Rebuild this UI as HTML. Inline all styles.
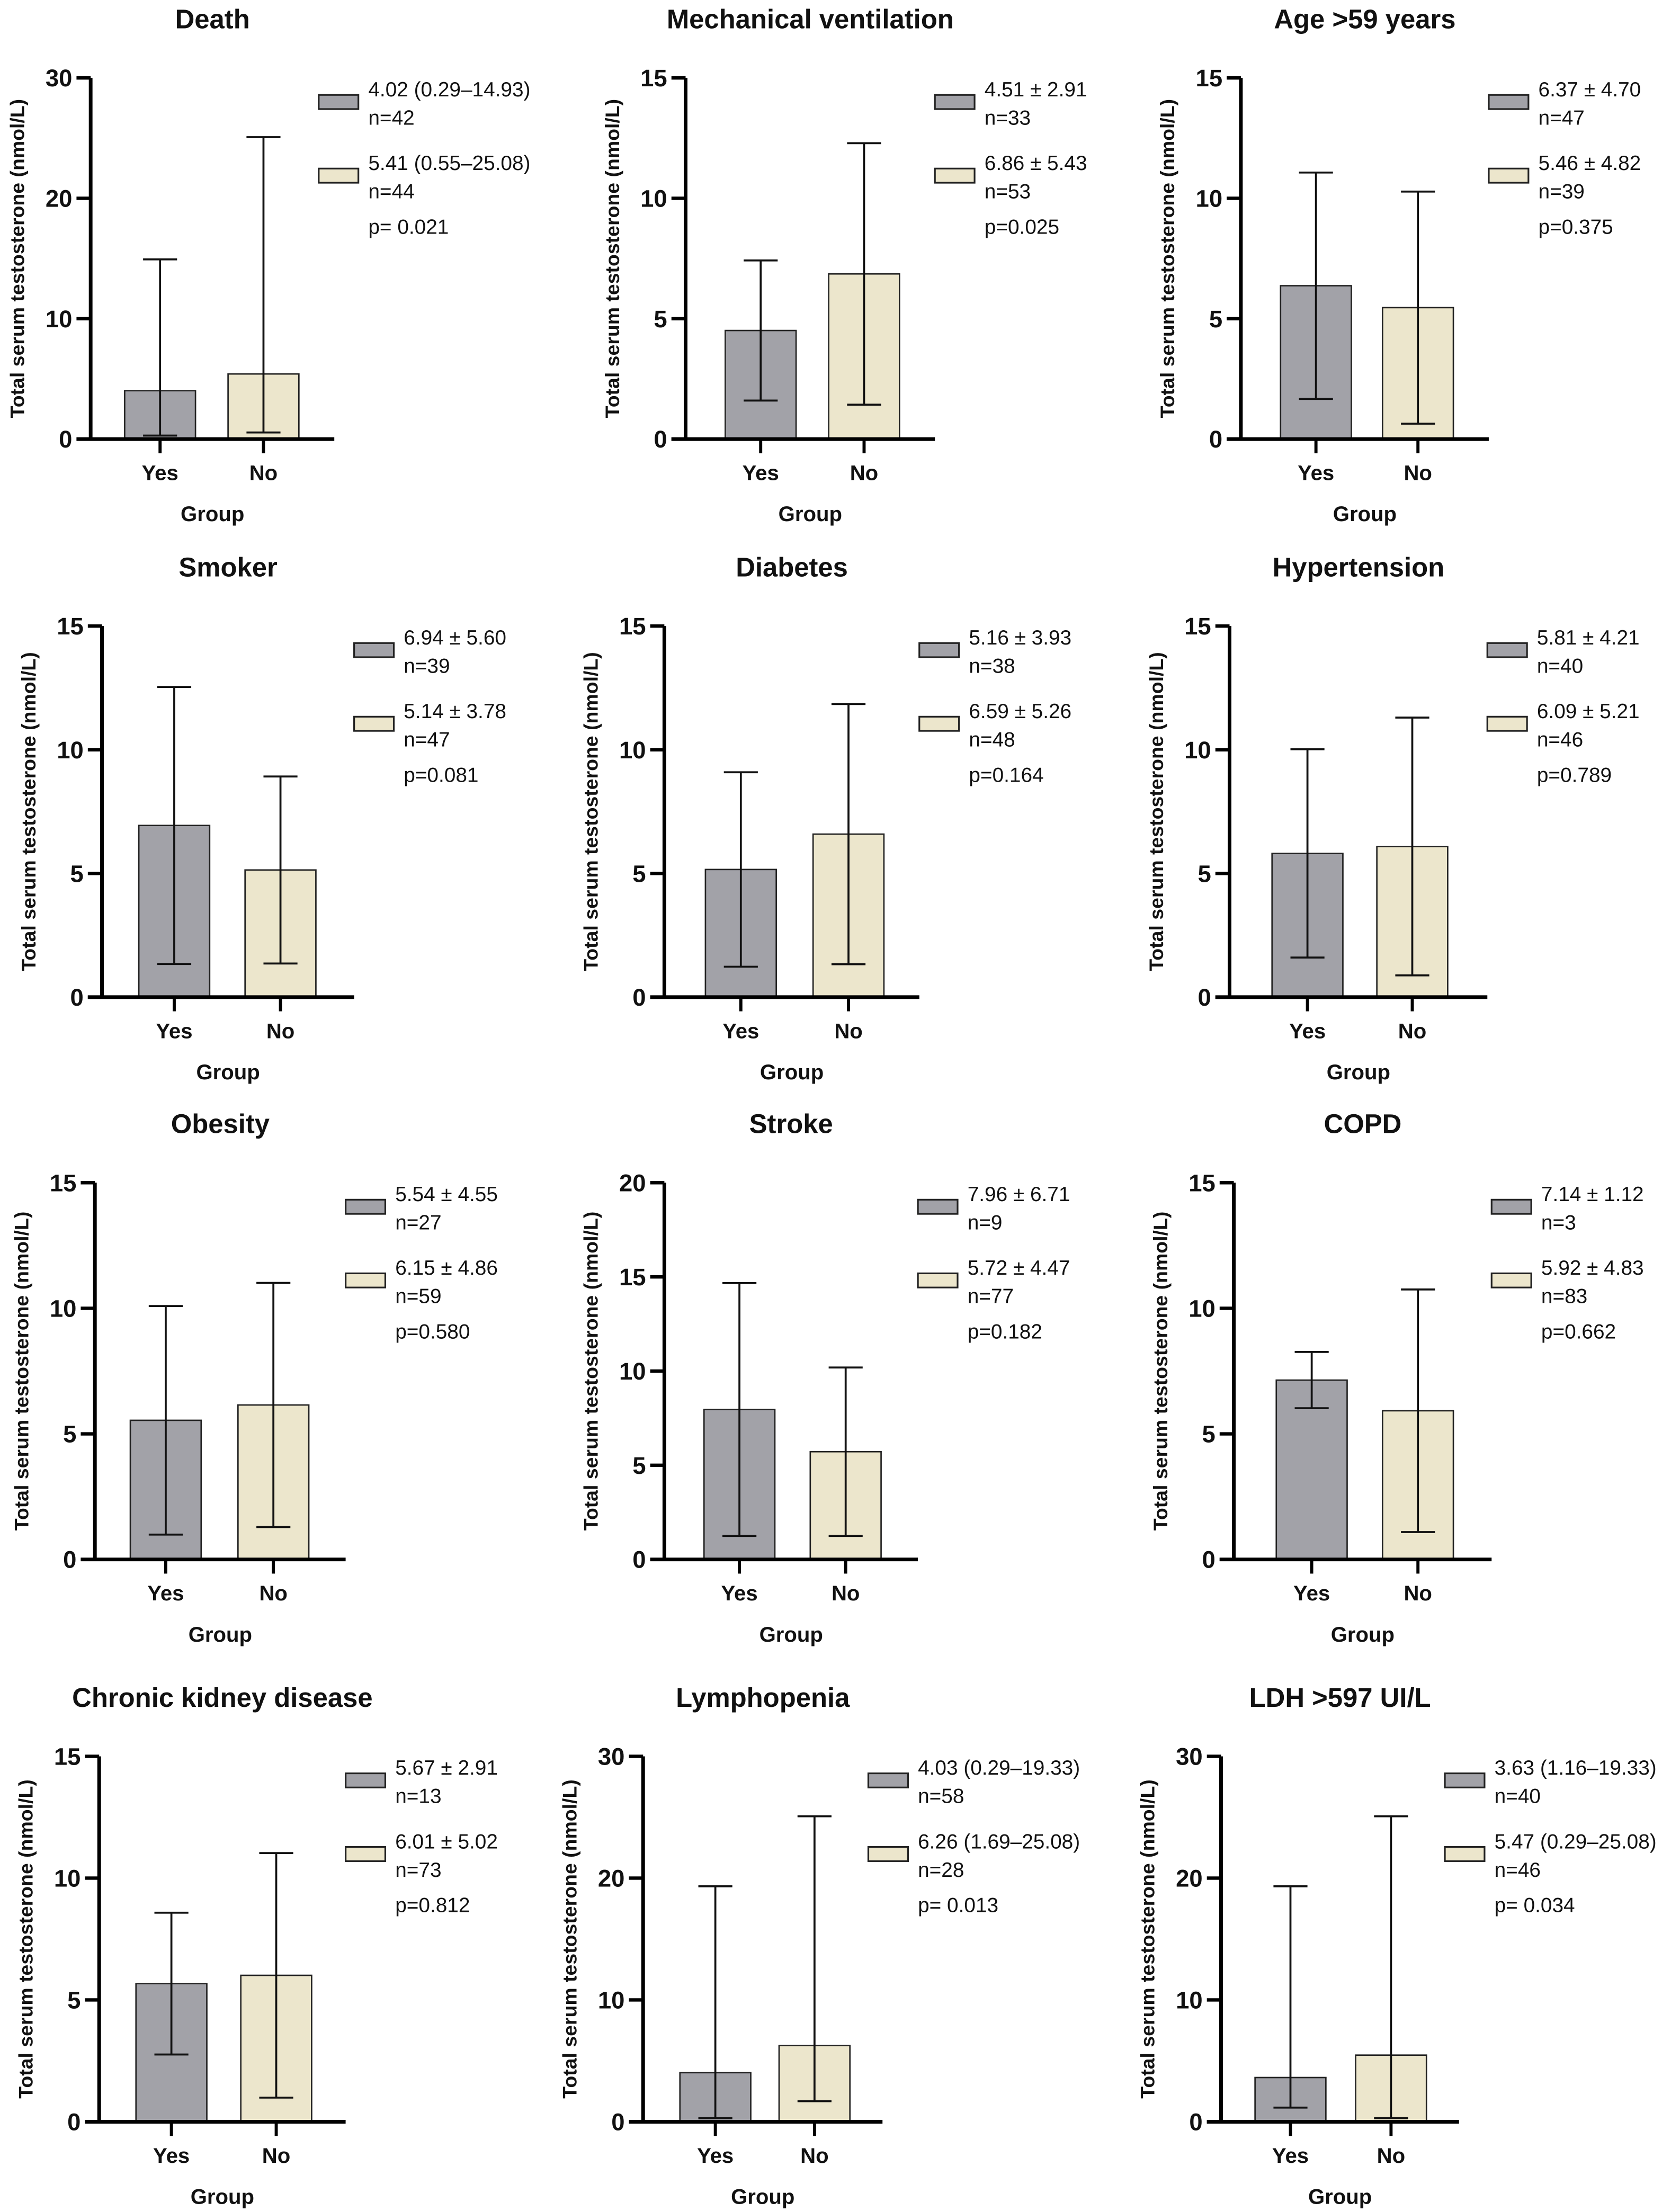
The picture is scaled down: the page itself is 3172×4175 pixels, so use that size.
<!DOCTYPE html>
<html><head><meta charset="utf-8">
<style>
html,body{margin:0;padding:0;background:#fff;}
svg{display:block;}
text{font-family:"Liberation Sans",Arial,sans-serif;fill:#111;}
</style></head>
<body>
<svg id="chart" width="3172" height="4175" viewBox="0 0 1186 1561" xmlns="http://www.w3.org/2000/svg"></svg>
<script>
// ---- data ----
const titles = ["Death","Mechanical ventilation","Age >59 years","Smoker","Diabetes","Hypertension","Obesity","Stroke","COPD","Chronic kidney disease","Lymphopenia","LDH >597 UI/L"];
const yMax = [30,15,15,15,15,15,15,20,15,15,30,30];
const yStep = [10,5,5,5,5,5,5,5,5,5,10,10];
const meanYes = [4.02,4.51,6.37,6.94,5.16,5.81,5.54,7.96,7.14,5.67,4.03,3.63];
const meanNo = [5.41,6.86,5.46,5.14,6.59,6.09,6.15,5.72,5.92,6.01,6.26,5.47];
const lowYes = [0.29,1.60,1.67,1.34,1.23,1.60,0.99,1.25,6.02,2.76,0.29,1.16];
const highYes = [14.93,7.42,11.07,12.54,9.09,10.02,10.09,14.67,8.26,8.58,19.33,19.33];
const lowNo = [0.55,1.43,0.64,1.36,1.33,0.88,1.29,1.25,1.09,0.99,1.69,0.29];
const highNo = [25.08,12.29,10.28,8.92,11.85,11.30,11.01,10.19,10.75,11.03,25.08,25.08];
const legYes = ["4.02 (0.29–14.93)","4.51 ± 2.91","6.37 ± 4.70","6.94 ± 5.60","5.16 ± 3.93","5.81 ± 4.21","5.54 ± 4.55","7.96 ± 6.71","7.14 ± 1.12","5.67 ± 2.91","4.03 (0.29–19.33)","3.63 (1.16–19.33)"];
const legNo = ["5.41 (0.55–25.08)","6.86 ± 5.43","5.46 ± 4.82","5.14 ± 3.78","6.59 ± 5.26","6.09 ± 5.21","6.15 ± 4.86","5.72 ± 4.47","5.92 ± 4.83","6.01 ± 5.02","6.26 (1.69–25.08)","5.47 (0.29–25.08)"];
const nYes = [42,33,47,39,38,40,27,9,3,13,58,40];
const nNo = [44,53,39,47,48,46,59,77,83,73,28,46];
const pVals = ["p= 0.021","p=0.025","p=0.375","p=0.081","p=0.164","p=0.789","p=0.580","p=0.182","p=0.662","p=0.812","p= 0.013","p= 0.034"];
const groups = ["Yes","No"];

// ---- layout (pixel geometry, not data) ----
const rowTop = [55,442,835,1240];
const rowZero = [310,704,1101,1498];
const axisX = [64,484,876,72,469,868,67,469,871,70,454,862];
const axisEnd = [236,660,1051,250,649,1050,244,648,1053,244,623,1030];
const yesX = [113,537,929,123,523,923,117,522,926,121,505,911];
const noX = [186,610,1001,198,599,997,193,597,1001,195,575,982];
const legX = [225,660,1051,250,649,1050,244,648,1053,244,613,1020];

const NS="http://www.w3.org/2000/svg";
const svg=document.getElementById('chart');
function mk(tag,attrs,parent,txt){const e=document.createElementNS(NS,tag);for(const k in attrs)e.setAttribute(k,attrs[k]);if(txt!==undefined)e.textContent=txt;(parent||svg).appendChild(e);return e;}

for(let i=0;i<12;i++){
  const r=Math.floor(i/3);
  const top=rowTop[r], zero=rowZero[r], ax=axisX[i], ae=axisEnd[i];
  const y=v=>zero-(v/yMax[i])*(zero-top);
  const g=mk('g',{});
  
  
  const t=mk('text',{x:(ax+ae)/2,y:top-35,'text-anchor':'middle','font-size':19,'font-weight':'bold'},g,titles[i]);
  
  
  const yl=mk('text',{transform:`translate(${ax-47},${(top+zero)/2}) rotate(-90)`,'text-anchor':'middle','font-size':14,'font-weight':'bold'},g,'Total serum testosterone (nmol/L)');
  
  
  const means=[meanYes[i],meanNo[i]], lows=[lowYes[i],lowNo[i]], highs=[highYes[i],highNo[i]], xs=[yesX[i],noX[i]], fills=['#a2a2a8','#ece6cc'];
  for(let k=0;k<2;k++){
    const b=mk('rect',{x:xs[k]-25,y:y(means[k]),width:50,height:zero-y(means[k]),fill:fills[k],stroke:'#222','stroke-width':1},g);
    
    
    const eb=mk('path',{d:`M${xs[k]},${y(lows[k])}V${y(highs[k])}M${xs[k]-12},${y(highs[k])}H${xs[k]+12}M${xs[k]-12},${y(lows[k])}H${xs[k]+12}`,stroke:'#111','stroke-width':1.4,fill:'none'},g);
    
    
    const xt=mk('text',{x:xs[k],y:zero+29,'text-anchor':'middle','font-size':15,'font-weight':'bold'},g,groups[k]);
    
    
    mk('line',{x1:xs[k],x2:xs[k],y1:zero,y2:zero+10,stroke:'#000','stroke-width':2.2},g);
  }
  const axes=mk('path',{d:`M${ax},${top}V${zero}M${ax-10},${zero}H${ae}`,stroke:'#000','stroke-width':2.6,fill:'none'},g);
  
  
  for(let v=0;v<=yMax[i];v+=yStep[i]){
    mk('line',{x1:ax-10,x2:ax,y1:y(v),y2:y(v),stroke:'#000','stroke-width':2.4},g);
    const tl=mk('text',{x:ax-13,y:y(v)+6,'text-anchor':'end','font-size':17,'font-weight':'bold'},g,String(v));
    
    
  }
  const gx=mk('text',{x:(ax+ae)/2,y:zero+58,'text-anchor':'middle','font-size':15,'font-weight':'bold'},g,'Group');
  
  
  const lx=legX[i], leg=[[legYes[i],'n='+nYes[i],top+17],[legNo[i],'n='+nNo[i],top+69]];
  for(let k=0;k<2;k++){
    const le=mk('g',{},g);
    
    
    mk('rect',{x:lx,y:leg[k][2]-5,width:28,height:10,fill:fills[k],stroke:'#222','stroke-width':1.2},le);
    mk('text',{x:lx+35,y:leg[k][2]-4,'font-size':14.5},le,leg[k][0]);
    mk('text',{x:lx+35,y:leg[k][2]+16,'font-size':14.5},le,leg[k][1]);
  }
  const pt=mk('text',{x:lx+35,y:top+110,'font-size':14.5},g,pVals[i]);
  
  
}
</script>
</body></html>
